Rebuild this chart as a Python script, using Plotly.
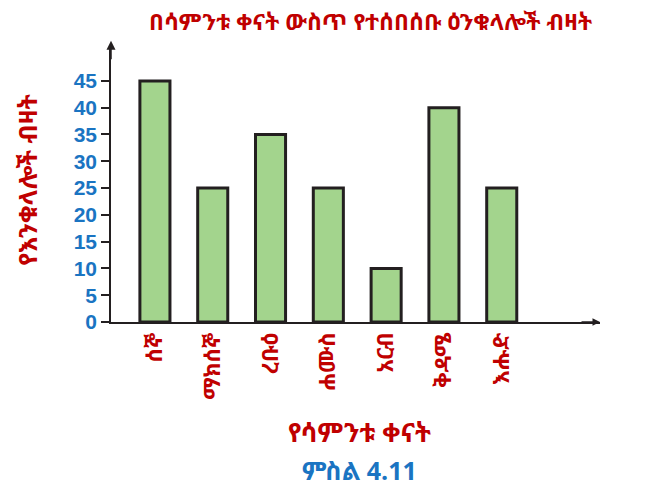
import plotly.graph_objects as go

days = ["ሰኞ", "ማክሰኞ", "ረቡዕ", "ሐሙስ", "አርብ", "ቅዳሜ", "እሑድ"]
eggs = [45, 25, 35, 25, 10, 40, 25]
y_ticks = [0, 5, 10, 15, 20, 25, 30, 35, 40, 45]

RED = "#c00000"
BLUE = "#1a74c2"
ETH_FONT = "Noto Sans Ethiopic, Abyssinica SIL, Noto Sans, DejaVu Sans, sans-serif"

fig = go.Figure(
    go.Bar(
        x=list(range(len(days))),
        y=eggs,
        width=0.52,
        marker={"color": "#a3d48d", "line": {"color": "#231f20", "width": 3}},
    )
)

# page body has an 8px margin, so the figure is a bit smaller than the window
fig.update_layout(
    width=637,
    height=480,
    plot_bgcolor="white",
    paper_bgcolor="white",
    showlegend=False,
    margin={"l": 103, "r": 45, "t": 37, "b": 166},
    xaxis={
        "range": [-0.76, 7.7],
        "tickmode": "array",
        "tickvals": list(range(len(days))),
        "ticktext": [f"<b>{d}</b>" for d in days],
        "tickangle": -90,
        "tickfont": {"family": ETH_FONT, "size": 22, "color": RED},
        "ticks": "",
        "showline": True,
        "linecolor": "#231f20",
        "linewidth": 1.5,
        "showgrid": False,
        "zeroline": False,
    },
    yaxis={
        "range": [0, 51.7],
        "tickmode": "array",
        "tickvals": y_ticks,
        "ticktext": [f"<b>{v}</b>" for v in y_ticks],
        "ticks": "outside",
        "ticklen": 8,
        "tickwidth": 2,
        "tickcolor": "#231f20",
        "tickfont": {"family": "Liberation Sans, Arial", "size": 21, "color": BLUE},
        "showline": True,
        "linecolor": "#231f20",
        "linewidth": 1.5,
        "showgrid": False,
        "zeroline": False,
    },
    annotations=[
        {
            "text": "<b>በሳምንቱ ቀናት ውስጥ የተሰበሰቡ ዕንቁላሎች ብዛት</b>",
            "xref": "paper", "yref": "paper",
            "x": 0.53, "y": 1.085,
            "xanchor": "center", "yanchor": "middle",
            "showarrow": False,
            "font": {"family": ETH_FONT, "size": 23, "color": RED},
        },
        {
            "text": "<b>የእንቁላሎች ብዛት</b>",
            "xref": "paper", "yref": "paper",
            "x": -0.172, "y": 0.513,
            "xanchor": "center", "yanchor": "middle",
            "textangle": -90,
            "showarrow": False,
            "font": {"family": ETH_FONT, "size": 25, "color": RED},
        },
        {
            "text": "<b>የሳምንቱ ቀናት</b>",
            "xref": "paper", "yref": "paper",
            "x": 0.509, "y": -0.397,
            "xanchor": "center", "yanchor": "middle",
            "showarrow": False,
            "font": {"family": ETH_FONT, "size": 26, "color": RED},
        },
        {
            "text": "<b>ምስል 4.11</b>",
            "xref": "paper", "yref": "paper",
            "x": 0.509, "y": -0.534,
            "xanchor": "center", "yanchor": "middle",
            "showarrow": False,
            "font": {"family": ETH_FONT, "size": 25, "color": BLUE},
        },
        {
            "xref": "paper", "yref": "paper",
            "x": 0, "y": 1.015, "ax": 0, "ay": 20,
            "text": "", "showarrow": True,
            "arrowhead": 2, "arrowsize": 1.2, "arrowwidth": 1.5, "arrowcolor": "#231f20",
        },
        {
            "xref": "paper", "yref": "paper",
            "x": 1.0, "y": 0, "ax": -20, "ay": 0,
            "text": "", "showarrow": True,
            "arrowhead": 2, "arrowsize": 1.0, "arrowwidth": 1.5, "arrowcolor": "#231f20",
        },
    ],
)

fig.write_html("out.html")
